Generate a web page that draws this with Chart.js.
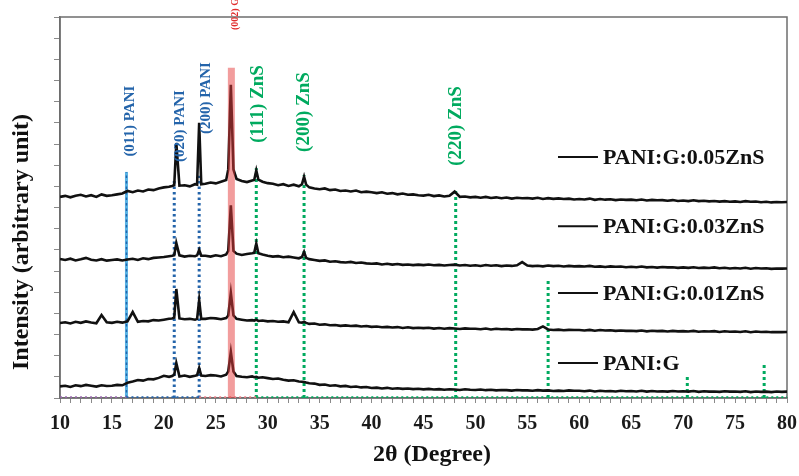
<!DOCTYPE html>
<html>
<head>
<meta charset="utf-8">
<script src="https://cdn.jsdelivr.net/npm/chart.js@4.4.1/dist/chart.umd.min.js"></script>
<style>
html,body{margin:0;padding:0;background:#fff;}
#wrap{width:799px;height:476px;position:relative;}
</style>
</head>
<body>
<div id="wrap"><canvas id="c" width="799" height="476"></canvas></div>
<script>
// ---- DATA ----
const twoTheta = [10,10.5,11,11.5,12,12.5,13,13.5,14,14.5,
15,15.5,16,16.5,17,17.5,18,18.5,19,19.5,
20,20.5,20.8,21,21.2,21.5,22,22.5,23,23.2,23.4,23.6,24,24.5,
25,25.5,26,26.2,26.45,26.7,27,27.5,28,28.5,28.7,28.9,29.1,29.5,
30,30.5,31,31.5,32,32.5,33,33.3,33.5,33.7,34,34.5,
35,35.5,36,36.5,37,37.5,38,38.5,39,39.5,
40,40.5,41,41.5,42,42.5,43,43.5,44,44.5,45,45.5,46,46.5,47,47.5,48,48.5,49,49.5,
50,50.5,51,51.5,52,52.5,53,53.5,54,54.5,55,55.5,56,56.5,57,57.5,58,58.5,59,59.5,
60,60.5,61,61.5,62,62.5,63,63.5,64,64.5,65,65.5,66,66.5,67,67.5,68,68.5,69,69.5,
70,70.5,71,71.5,72,72.5,73,73.5,74,74.5,75,75.5,76,76.5,77,77.5,78,78.5,79,79.5,80];

const pani_G = [0.55,0.58,0.52,0.60,0.56,0.62,0.58,0.54,0.60,0.57,
0.58,0.62,0.60,0.72,0.78,0.85,0.82,0.90,0.88,0.95,
1.05,1.00,1.04,1.10,1.65,1.02,1.06,1.00,1.05,1.08,1.42,1.06,1.04,1.08,
1.06,1.02,1.10,1.25,2.17,1.25,1.04,1.00,0.98,1.02,0.98,1.00,0.96,0.98,
0.94,0.90,0.92,0.86,0.82,0.84,0.78,0.77,0.76,0.73,0.70,0.68,
0.62,0.64,0.58,0.60,0.55,0.57,0.52,0.54,0.50,0.52,
0.47,0.49,0.45,0.48,0.44,0.46,0.43,0.45,0.42,0.44,
0.41,0.43,0.40,0.42,0.39,0.41,0.40,0.38,0.41,0.39,
0.38,0.40,0.37,0.39,0.36,0.38,0.37,0.35,0.38,0.36,
0.36,0.34,0.37,0.35,0.36,0.33,0.35,0.33,0.36,0.34,
0.34,0.32,0.35,0.31,0.34,0.32,0.33,0.31,0.34,0.32,
0.33,0.31,0.34,0.30,0.33,0.31,0.32,0.30,0.33,0.31,
0.32,0.30,0.33,0.29,0.32,0.30,0.31,0.29,0.32,0.30,
0.31,0.29,0.32,0.28,0.31,0.29,0.30,0.28,0.31,0.29,0.30];

const pani_G_001ZnS = [3.54,3.58,3.52,3.60,3.55,3.62,3.57,3.53,3.92,3.58,
3.55,3.60,3.56,3.62,4.06,3.60,3.64,3.62,3.68,3.66,
3.70,3.74,3.76,3.80,5.15,3.76,3.72,3.74,3.70,3.74,4.63,3.74,3.74,3.78,
3.76,3.72,3.78,3.90,4.96,3.90,3.74,3.70,3.66,3.68,3.66,3.70,3.64,3.66,
3.62,3.64,3.60,3.62,3.58,4.06,3.58,3.56,3.60,3.55,3.50,3.52,
3.46,3.48,3.44,3.45,3.41,3.43,3.40,3.42,3.38,3.40,
3.36,3.38,3.34,3.36,3.33,3.35,3.31,3.34,3.30,3.32,
3.30,3.32,3.28,3.31,3.27,3.30,3.28,3.26,3.29,3.27,
3.27,3.25,3.28,3.24,3.27,3.25,3.26,3.23,3.26,3.24,
3.25,3.23,3.26,3.38,3.24,3.21,3.23,3.20,3.22,3.21,
3.21,3.19,3.22,3.18,3.21,3.19,3.20,3.17,3.19,3.17,
3.18,3.16,3.19,3.15,3.18,3.16,3.17,3.14,3.17,3.15,
3.16,3.14,3.17,3.13,3.15,3.14,3.16,3.12,3.15,3.13,
3.14,3.12,3.15,3.11,3.14,3.12,3.13,3.11,3.12,3.11,3.12];

const pani_G_003ZnS = [6.57,6.52,6.58,6.50,6.55,6.62,6.53,6.50,6.56,6.49,
6.52,6.55,6.50,6.54,6.58,6.52,6.60,6.56,6.62,6.64,
6.66,6.70,6.72,6.75,7.32,6.74,6.68,6.72,6.70,6.74,7.00,6.72,6.72,6.68,
6.74,6.70,6.78,6.95,9.10,6.95,6.82,6.76,6.80,6.84,6.86,7.30,6.84,6.78,
6.72,6.68,6.70,6.65,6.68,6.64,6.60,6.66,6.90,6.62,6.56,6.52,
6.48,6.50,6.44,6.46,6.42,6.40,6.43,6.38,6.40,6.36,
6.34,6.36,6.31,6.34,6.30,6.33,6.29,6.31,6.28,6.30,
6.28,6.31,6.27,6.29,6.26,6.28,6.30,6.26,6.28,6.25,
6.27,6.24,6.28,6.25,6.27,6.23,6.26,6.24,6.27,6.42,
6.26,6.23,6.25,6.22,6.26,6.23,6.25,6.21,6.24,6.22,
6.23,6.21,6.24,6.20,6.22,6.19,6.22,6.20,6.21,6.18,
6.20,6.18,6.21,6.17,6.19,6.16,6.19,6.17,6.18,6.15,
6.17,6.15,6.18,6.14,6.16,6.14,6.17,6.13,6.15,6.12,
6.14,6.12,6.15,6.11,6.14,6.12,6.13,6.10,6.12,6.11,6.12];

const pani_G_005ZnS = [9.50,9.55,9.48,9.56,9.60,9.52,9.58,9.50,9.62,9.55,
9.58,9.62,9.66,9.78,9.72,9.80,9.76,9.85,9.82,9.90,
9.95,9.98,10.02,10.06,12.05,10.03,10.05,10.00,10.10,10.08,13.00,10.10,10.12,10.18,
10.14,10.22,10.30,10.80,14.80,10.80,10.35,10.25,10.20,10.28,10.30,10.75,10.32,10.22,
10.15,10.12,10.05,10.10,10.02,10.08,10.00,10.10,10.45,10.08,9.95,9.90,
9.86,9.90,9.82,9.85,9.78,9.80,9.76,9.80,9.72,9.75,
9.72,9.68,9.72,9.65,9.68,9.62,9.66,9.60,9.62,9.58,
9.56,9.60,9.54,9.57,9.52,9.55,9.75,9.50,9.52,9.48,
9.50,9.46,9.50,9.45,9.48,9.44,9.47,9.42,9.46,9.44,
9.45,9.42,9.46,9.40,9.44,9.41,9.43,9.40,9.42,9.38,
9.40,9.38,9.42,9.36,9.40,9.37,9.39,9.35,9.38,9.36,
9.37,9.34,9.38,9.33,9.36,9.34,9.35,9.32,9.35,9.31,
9.33,9.30,9.34,9.30,9.32,9.29,9.31,9.28,9.30,9.27,
9.29,9.26,9.30,9.27,9.28,9.25,9.27,9.24,9.26,9.25,9.26];

const seriesNames = ['PANI:G','PANI:G:0.01ZnS','PANI:G:0.03ZnS','PANI:G:0.05ZnS'];

// reference peak positions (2θ) and stick heights
const paniPeaks = [16.4, 21.0, 23.4];
const paniHeights = [10.68, 10.3, 10.5];
const graphitePeaks = [26.5];
const graphiteHeights = [15.6];
const znsPeaks = [28.9, 33.5, 48.1, 57.0, 70.4, 77.8];
const znsHeights = [10.86, 10.53, 9.83, 5.57, 1.09, 1.7];

const peakLabels = ['(011) PANI','(020) PANI','(200) PANI','(002) G','(111) ZnS','(200) ZnS','(220) ZnS'];

const xTickLabels = [10,15,20,25,30,35,40,45,50,55,60,65,70,75,80];

// ---- STYLE / LAYOUT ----
const SERIF = '"Liberation Serif","Times New Roman",serif';
const BLUE = 'rgb(36,100,170)';
const LBLUE = 'rgba(70,170,225,0.9)';
const GREEN = 'rgb(0,170,95)';
const RED = 'rgba(230,60,60,0.5)';
const PINK = 'rgba(235,120,130,0.9)';
const PURPLE = 'rgba(150,100,170,0.9)';

const labelStyle = [
  {x:16.75, y:13.08, color:BLUE, size:15},
  {x:21.55, y:12.85, color:BLUE, size:15},
  {x:24.06, y:14.17, color:BLUE, size:15},
  {x:26.85, y:18.14, color:'rgb(225,45,45)', size:10},
  {x:29.06, y:13.89, color:GREEN, size:19},
  {x:33.5,  y:13.51, color:GREEN, size:19},
  {x:48.13, y:12.85, color:GREEN, size:19}
];
const legendPos = [1.65, 4.96, 8.12, 11.38]; // y (data units) for each series note

function pts(xs, ys){ return xs.map((x,i)=>({x:x, y:ys[i]})); }
function stick(x, h){ return [{x:x,y:0},{x:x,y:h}]; }

const datasets = [];
const baseSegs = [[10,16.4,PURPLE],[16.4,23.4,BLUE],[23.4,28.9,PINK],[28.9,80,GREEN]];
baseSegs.forEach(s=>{
  datasets.push({data:[{x:s[0],y:0.02},{x:s[1],y:0.02}], borderColor:s[2], borderWidth:2.5,
    borderDash:[2,3], pointRadius:0, showLine:true, order:5});
});
paniPeaks.forEach((p,i)=>{
  if(i===0){
    datasets.push({data:stick(p,paniHeights[i]), borderColor:LBLUE, borderWidth:3, pointRadius:0, showLine:true, order:6});
  }
  datasets.push({data:stick(p,paniHeights[i]), borderColor:BLUE, borderWidth:i===0?1.5:3, borderDash:[2.5,3], pointRadius:0, showLine:true, order:5});
});
znsPeaks.forEach((p,i)=>{
  datasets.push({data:stick(p,znsHeights[i]), borderColor:GREEN, borderWidth:3, borderDash:[3,3], pointRadius:0, showLine:true, order:5});
});
[pani_G, pani_G_001ZnS, pani_G_003ZnS, pani_G_005ZnS].forEach((ys,i)=>{
  datasets.push({label:seriesNames[i], data:pts(twoTheta, ys), borderColor:'#111', borderWidth:2.6,
    pointRadius:0, showLine:true, tension:0, order:2});
});
graphitePeaks.forEach((p,i)=>{
  datasets.push({data:stick(p,graphiteHeights[i]), borderColor:RED, borderWidth:7, pointRadius:0, showLine:true, order:0});
});

const annot = {
  id:'annot',
  beforeDatasetsDraw(chart){
    const {ctx, chartArea:a} = chart;
    ctx.save();
    ctx.strokeStyle = '#6e6e6e';
    ctx.lineWidth = 1.5;
    ctx.strokeRect(a.left, a.top, a.right-a.left, a.bottom-a.top);
    ctx.restore();
  },
  afterDraw(chart){
    const {ctx, scales:{x, y}} = chart;
    ctx.save();
    peakLabels.forEach((t,i)=>{
      const s = labelStyle[i];
      ctx.save();
      ctx.translate(x.getPixelForValue(s.x), y.getPixelForValue(s.y));
      ctx.rotate(-Math.PI/2);
      ctx.font = 'bold '+s.size+'px '+SERIF;
      ctx.fillStyle = s.color;
      ctx.textAlign = 'center';
      ctx.textBaseline = 'middle';
      ctx.fillText(t, 0, 0);
      ctx.restore();
    });
    seriesNames.forEach((n,i)=>{
      const py = y.getPixelForValue(legendPos[i]);
      ctx.strokeStyle = '#111';
      ctx.lineWidth = 2;
      ctx.beginPath();
      ctx.moveTo(x.getPixelForValue(57.95), py);
      ctx.lineTo(x.getPixelForValue(61.8), py);
      ctx.stroke();
      ctx.font = 'bold 22px '+SERIF;
      ctx.fillStyle = '#111';
      ctx.textAlign = 'left';
      ctx.textBaseline = 'middle';
      ctx.fillText(n, x.getPixelForValue(62.28), py+1);
    });
    ctx.font = 'bold 24px '+SERIF;
    ctx.fillStyle = '#111';
    ctx.textAlign = 'center';
    ctx.textBaseline = 'middle';
    ctx.fillText('2θ (Degree)', 432, 455);
    ctx.save();
    ctx.translate(22, 242);
    ctx.rotate(-Math.PI/2);
    ctx.font = 'bold 24px '+SERIF;
    ctx.fillText('Intensity (arbitrary unit)', 0, 0);
    ctx.restore();
    ctx.restore();
  }
};

new Chart(document.getElementById('c'), {
  type:'scatter',
  data:{datasets:datasets},
  options:{
    responsive:false,
    animation:false,
    events:[],
    layout:{padding:{left:0, right:12, top:17, bottom:0}},
    plugins:{legend:{display:false}, tooltip:{enabled:false}},
    scales:{
      x:{
        type:'linear', min:10, max:80,
        afterFit(s){ s.height = 78; s.paddingRight = 0; s.paddingLeft = 0; },
        border:{display:true, color:'#6e6e6e', width:1.5},
        grid:{display:true, drawOnChartArea:false, drawTicks:true, tickLength:5, color:'#8a8a8a'},
        ticks:{stepSize:1, autoSkip:false, maxRotation:0, minRotation:0, padding:9,
          color:'#1a1a1a', font:{family:SERIF, size:20, weight:'bold'},
          callback:(v)=> xTickLabels.includes(v) ? String(v) : ''}
      },
      y:{
        min:0, max:18,
        afterFit(s){ s.width = 60; },
        border:{display:true, color:'#6e6e6e', width:1.5},
        grid:{display:true, drawOnChartArea:false, drawTicks:true, tickLength:6, color:'#8a8a8a'},
        ticks:{stepSize:1, padding:0, callback:()=>''}
      }
    }
  },
  plugins:[annot]
});
</script>
</body>
</html>
